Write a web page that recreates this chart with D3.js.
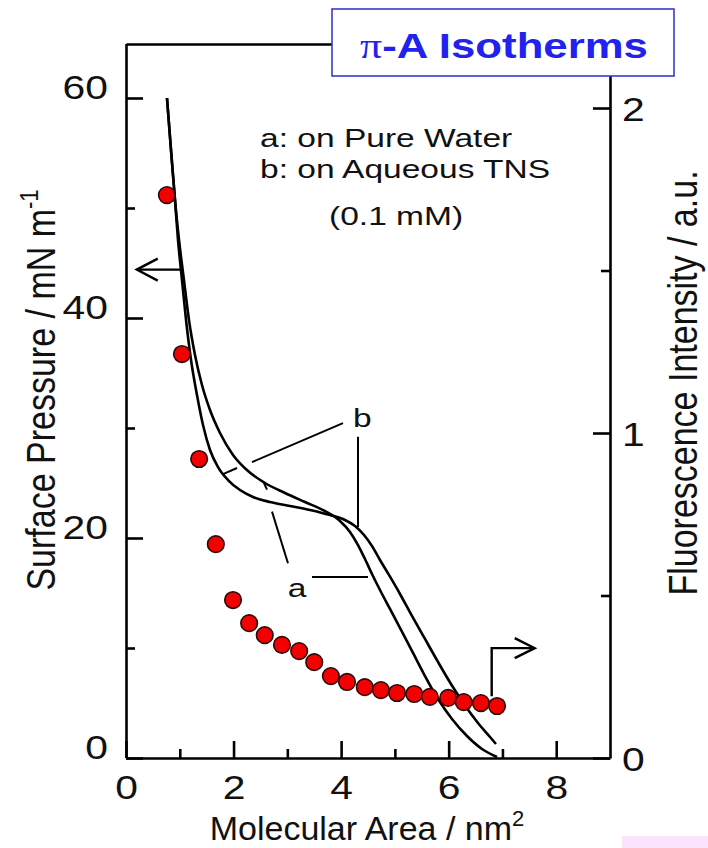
<!DOCTYPE html>
<html>
<head>
<meta charset="utf-8">
<script src="https://cdn.jsdelivr.net/npm/d3@7"></script>
<style>
  html, body { margin: 0; padding: 0; background: #fff; }
  svg { display: block; }
  text { font-family: "Liberation Sans", Arial, Helvetica, sans-serif; fill: #111; }
</style>
</head>
<body>
<svg id="chart" width="708" height="848"></svg>
<script>
// Isotherm a: on pure water (molecular area nm^2, surface pressure mN/m)
const areaA = [0.762, 0.837, 0.911, 0.986, 1.078, 1.171, 1.283, 1.413, 1.562, 1.748, 1.990, 2.269, 2.585, 2.957, 3.328, 3.700, 3.979, 4.165, 4.314, 4.444, 4.574, 4.723, 4.909, 5.114, 5.337, 5.560, 5.802, 6.062, 6.341, 6.620, 6.899];
const pressureA = [60.0, 55.27, 50.73, 47.09, 43.45, 39.82, 36.64, 33.91, 31.64, 29.55, 27.55, 26.09, 25.0, 24.09, 23.27, 22.45, 21.55, 20.55, 19.36, 18.09, 16.73, 15.27, 13.55, 11.64, 9.55, 7.45, 5.36, 3.55, 2.0, 0.82, 0.09];

// Isotherm b: on aqueous TNS (0.1 mM)
const areaB = [0.762, 0.837, 0.911, 0.967, 1.041, 1.116, 1.209, 1.320, 1.432, 1.562, 1.711, 1.897, 2.120, 2.362, 2.678, 3.050, 3.421, 3.793, 4.072, 4.258, 4.426, 4.574, 4.723, 4.890, 5.095, 5.318, 5.560, 5.802, 6.043, 6.285, 6.545, 6.769, 6.880];
const pressureB = [60.0, 55.27, 50.73, 47.09, 43.45, 39.82, 36.18, 33.0, 30.27, 28.0, 26.45, 25.27, 24.36, 23.73, 23.27, 22.91, 22.55, 22.09, 21.64, 21.09, 20.27, 19.27, 18.0, 16.64, 14.91, 12.91, 10.82, 8.73, 6.73, 4.91, 3.18, 1.91, 1.27];

// Fluorescence intensity (a.u.) measured along the compression
const fluorArea = [0.76, 1.04, 1.36, 1.67, 1.99, 2.29, 2.58, 2.90, 3.22, 3.50, 3.81, 4.11, 4.44, 4.74, 5.04, 5.36, 5.65, 5.99, 6.28, 6.60, 6.90];
const fluorIntensity = [1.732, 1.243, 0.920, 0.658, 0.486, 0.415, 0.378, 0.348, 0.329, 0.295, 0.252, 0.234, 0.218, 0.209, 0.200, 0.197, 0.188, 0.185, 0.172, 0.169, 0.160];

// Tick values
const xMajorTicks = [0, 2, 4, 6, 8];
const xMinorTicks = [1, 3, 5, 7];
const leftMajorTicks = [0, 20, 40, 60];
const leftMinorTicks = [10, 30, 50];
const rightMajorTicks = [0, 1, 2];
const rightMinorTicks = [0.5, 1.5];

// Text
const titleText = "-A Isotherms";
const legendLines = ["a: on Pure Water", "b: on Aqueous TNS", "(0.1 mM)"];

const svg = d3.select("#chart");
const L = 126, R = 610, B = 758, T = 44;

const x = d3.scaleLinear().domain([0, 9]).range([L, R]);
const yL = d3.scaleLinear().domain([0, 65]).range([B, 43]);
const yR = d3.scaleLinear().domain([0, 2.197]).range([B, T]);

const AXIS_W = 2.6;
const TICK_FONT = 34, TICK_SX = 1.2;

function styleAxis(g) {
  g.selectAll("path.domain").attr("stroke", "#000").attr("stroke-width", AXIS_W);
  g.selectAll(".tick line").attr("stroke", "#000").attr("stroke-width", AXIS_W);
  g.attr("font-family", null).attr("font-size", null);
}

// bottom axis
const gx = svg.append("g").attr("transform", `translate(0,${B})`)
  .call(d3.axisBottom(x).tickValues(xMajorTicks).tickSizeInner(-17).tickSizeOuter(0).tickFormat(d3.format("d")));
styleAxis(gx);
gx.selectAll(".tick text").attr("y", null).attr("dy", null)
  .attr("text-anchor", "middle").attr("font-size", TICK_FONT)
  .attr("transform", `translate(0,41) scale(${TICK_SX},1)`);
const gxm = svg.append("g").attr("transform", `translate(0,${B})`)
  .call(d3.axisBottom(x).tickValues(xMinorTicks).tickSizeInner(-9).tickSizeOuter(0).tickFormat(""));
styleAxis(gxm); gxm.select("path.domain").remove();

// top frame line
const gt = svg.append("g").attr("transform", `translate(0,${T})`)
  .call(d3.axisTop(x).tickValues([]).tickSizeOuter(0));
styleAxis(gt);

// left axis (surface pressure)
const gl = svg.append("g").attr("transform", `translate(${L},0)`)
  .call(d3.axisLeft(yL).tickValues(leftMajorTicks).tickSizeInner(-17).tickSizeOuter(0).tickFormat(d3.format("d")));
styleAxis(gl);
gl.select("path.domain").attr("d", `M0.5,${B}V${T}`);
gl.selectAll(".tick text").attr("x", null).attr("dy", null)
  .attr("text-anchor", "end").attr("font-size", TICK_FONT)
  .attr("transform", `translate(-18,0) scale(${TICK_SX},1)`);
const glm = svg.append("g").attr("transform", `translate(${L},0)`)
  .call(d3.axisLeft(yL).tickValues(leftMinorTicks).tickSizeInner(-9).tickSizeOuter(0).tickFormat(""));
styleAxis(glm); glm.select("path.domain").remove();

// right axis (fluorescence)
const gr = svg.append("g").attr("transform", `translate(${R},0)`)
  .call(d3.axisRight(yR).tickValues(rightMajorTicks).tickSizeInner(-17).tickSizeOuter(0).tickFormat(d3.format("d")));
styleAxis(gr);
gr.selectAll(".tick text").attr("x", null).attr("dy", null)
  .attr("text-anchor", "start").attr("font-size", TICK_FONT)
  .attr("transform", `translate(12,12) scale(${TICK_SX},1)`);
const grm = svg.append("g").attr("transform", `translate(${R},0)`)
  .call(d3.axisRight(yR).tickValues(rightMinorTicks).tickSizeInner(-9).tickSizeOuter(0).tickFormat(""));
styleAxis(grm); grm.select("path.domain").remove();

// isotherm curves
const isoLine = d3.line().curve(d3.curveMonotoneX);
const curveA = areaA.map((a, i) => [x(a), yL(pressureA[i])]);
const curveB = areaB.map((a, i) => [x(a), yL(pressureB[i])]);
svg.append("path").attr("d", isoLine(curveA)).attr("fill", "none").attr("stroke", "#000").attr("stroke-width", 2.6);
svg.append("path").attr("d", isoLine(curveB)).attr("fill", "none").attr("stroke", "#000").attr("stroke-width", 2.6);

// leader lines for the curve labels (in data units)
const leaders = [
  [[4.035, 30.45], [2.343, 26.9]],
  [[2.064, 26.36], [1.804, 25.8]],
  [[4.314, 29.2], [4.314, 21.0]],
  [[3.459, 16.45], [4.50, 16.45]],
  [[3.012, 17.7], [2.715, 22.4]],
  [[2.622, 24.4], [2.566, 25.0]]
];
svg.append("g").selectAll("line").data(leaders).join("line")
  .attr("x1", d => x(d[0][0])).attr("y1", d => yL(d[0][1]))
  .attr("x2", d => x(d[1][0])).attr("y2", d => yL(d[1][1]))
  .attr("stroke", "#000").attr("stroke-width", 2);

const LABEL_FONT = 25.6, LABEL_SX = 1.31;
function label(txt, px, py, anchor) {
  return svg.append("text").text(txt)
    .attr("font-size", LABEL_FONT).attr("text-anchor", anchor || "start")
    .attr("transform", `translate(${px},${py}) scale(${LABEL_SX},1)`);
}
label("b", x(4.22), yL(30.1));
label("a", x(3.01), yL(14.6));

// fluorescence points
svg.append("g").selectAll("circle").data(fluorArea).join("circle")
  .attr("cx", (d) => x(d)).attr("cy", (d, i) => yR(fluorIntensity[i]))
  .attr("r", 8.3).attr("fill", "#f50000").attr("stroke", "#2a0a0a").attr("stroke-width", 1.6);

// axis-assignment arrows
const arrows = svg.append("g").attr("fill", "none").attr("stroke", "#000").attr("stroke-width", 2.4);
const lTip = [x(0.2), yL(44.4)];
arrows.append("path").attr("d", `M${x(1.02)},${lTip[1]}H${lTip[0]}`);
arrows.append("path").attr("d", `M${lTip[0] + 21},${lTip[1] - 11}L${lTip[0]},${lTip[1]}L${lTip[0] + 21},${lTip[1] + 11}`);
const rTip = [x(7.6), yR(0.338)];
arrows.append("path").attr("d", `M${x(6.8)},${yR(0.19)}V${rTip[1]}H${rTip[0]}`);
arrows.append("path").attr("d", `M${rTip[0] - 20},${rTip[1] - 10}L${rTip[0]},${rTip[1]}L${rTip[0] - 20},${rTip[1] + 10}`);

// legend
label(legendLines[0], 260, 147);
label(legendLines[1], 260, 178);
label(legendLines[2], 329, 225);

// axis titles
const xt = svg.append("text").attr("font-size", 34).attr("text-anchor", "middle")
  .attr("transform", `translate(367,840)`);
xt.append("tspan").text("Molecular Area / nm");
xt.append("tspan").text("2").attr("font-size", 22).attr("dy", -14);

const TITLE_SX = 1.2;
const ylt = svg.append("text").attr("font-size", 34).attr("text-anchor", "middle")
  .attr("transform", `translate(55,390) scale(${TITLE_SX},1) rotate(-90)`);
ylt.append("tspan").text("Surface Pressure / mN m");
ylt.append("tspan").text("-1").attr("font-size", 22).attr("dy", -14);

svg.append("text").attr("font-size", 34).attr("text-anchor", "middle")
  .attr("transform", `translate(697,383) scale(${TITLE_SX},1) rotate(-90)`)
  .text("Fluorescence Intensity / a.u.");

// title box
svg.append("rect").attr("x", 332).attr("y", 9).attr("width", 342).attr("height", 67)
  .attr("fill", "#fff").attr("stroke", "#3a3acc").attr("stroke-width", 1.6);
const tt = svg.append("text").attr("text-anchor", "middle").attr("font-size", 35)
  .attr("font-weight", "bold").style("fill", "#2222ee");
tt.append("tspan").text("\u03c0").attr("font-family", "'Liberation Serif', 'Times New Roman', serif").attr("font-weight", "normal");
tt.append("tspan").text(titleText);
const tw = tt.node().getBBox().width;
tt.attr("transform", `translate(504,58) scale(${288 / tw},1)`);

// pink patch in the lower right corner
svg.append("rect").attr("x", 622).attr("y", 836).attr("width", 86).attr("height", 12).attr("fill", "#fbe3fb");
</script>
</body>
</html>
